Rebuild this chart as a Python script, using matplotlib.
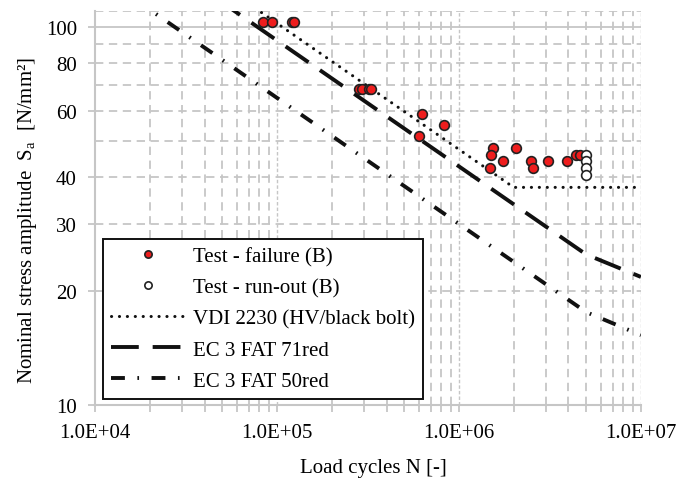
import numpy as np
import matplotlib
matplotlib.use('Agg')
from matplotlib import pyplot as plt
from matplotlib.ticker import FixedLocator, NullFormatter

plt.rcParams['font.family'] = ['Liberation Serif', 'DejaVu Serif']
plt.rcParams['mathtext.fontset'] = 'custom'
plt.rcParams['mathtext.rm'] = 'Liberation Serif'
plt.rcParams['lines.scale_dashes'] = False

# test results (load cycles, stress amplitude)
fail_n = [84100, 94200, 120500, 124500, 282000, 293000, 320000, 328500,
          624000, 830000, 603000, 1543000, 1499000, 2049000, 1739000, 1480000,
          2477000, 2560000, 3095000, 3936000, 4377000, 4624000]
fail_s = [103, 103, 103, 103, 68.5, 68.5, 68.5, 68.5,
          58.9, 55.1, 51.4, 47.8, 45.9, 47.8, 44.1, 42.3,
          44.1, 42.3, 44.1, 44.1, 45.9, 45.9]
runout_n = [5.0e6, 5.0e6, 5.0e6, 5.0e6]
runout_s = [45.9, 44.1, 42.3, 40.6]

# design curves (break points)
vdi_n = [1e4, 2e6, 1e7]
vdi_s = [220, 37.6, 37.6]
fat71_n = [1e4, 5e6, 1e7]
fat71_s = [198, 25.0, 21.8]
fat50_n = [1e4, 5e6, 1e7]
fat50_s = [139.7, 17.6, 15.3]

xticks = [1e4, 1e5, 1e6, 1e7]
xlabels = ["1.0E+04", "1.0E+05", "1.0E+06", "1.0E+07"]
yticks = [10, 20, 30, 40, 60, 80, 100]

fs = 15
grid_c = '#c6c6c6'

fig = plt.figure(figsize=(6.91, 4.81), dpi=100)
ax = fig.add_axes([0.1375, 0.156, 0.790, 0.819])
ax.set_xscale('log')
ax.set_yscale('log')
ax.set_xlim(1e4, 1e7)
ax.set_ylim(10, 110)

# grid
xminor = [m * d for d in [1e4, 1e5, 1e6] for m in range(2, 10)]
for x in xminor:
    ax.axvline(x, color=grid_c, lw=1.3, ls=(0, (6, 4)), zorder=0)
for x in xticks[1:]:
    ax.axvline(x, color=grid_c, lw=1.0, ls=(0, (2.5, 1.5)), zorder=0)
for y in [20, 30, 40, 50, 60, 70, 80, 90, 110]:
    ax.axhline(y, color=grid_c, lw=1.3, ls=(0, (6, 4)), zorder=0)
ax.axhline(100, color=grid_c, lw=1.3, zorder=0)

l1, = ax.plot(fail_n, fail_s, 'o', ms=7, mfc='#ee1d1d', mec='#222222', mew=1.2,
              ls='none', zorder=5)
l2, = ax.plot(runout_n, runout_s, 'o', ms=7, mfc='white', mec='#222222', mew=1.2,
              ls='none', zorder=5)
l3, = ax.plot(vdi_n, vdi_s, color='#111111', lw=2.2, ls=(0, (0.1, 5.6)),
              dash_capstyle='round', zorder=3)
l4, = ax.plot(fat71_n, fat71_s, color='#111111', lw=2.8, ls=(0, (20, 10)),
              zorder=3)
l5, = ax.plot(fat50_n, fat50_s, color='#111111', lw=2.8, ls=(0, (10, 9, 1.2, 9)),
              zorder=3)

ax.xaxis.set_major_locator(FixedLocator(xticks))
ax.set_xticklabels(xlabels)
ax.xaxis.set_minor_locator(FixedLocator(xminor))
ax.xaxis.set_minor_formatter(NullFormatter())
ax.yaxis.set_major_locator(FixedLocator(yticks))
ax.set_yticklabels([str(v) for v in yticks])
ax.yaxis.set_minor_locator(FixedLocator([]))
ax.tick_params(axis='both', which='both', direction='out', color=grid_c,
               width=1.3, labelsize=fs)
ax.tick_params(axis='x', which='both', length=5, pad=8)
ax.tick_params(axis='y', which='major', length=5, pad=8)

for s in ['top', 'right']:
    ax.spines[s].set_visible(False)
for s in ['left', 'bottom']:
    ax.spines[s].set_color(grid_c)
    ax.spines[s].set_linewidth(1.5)

ax.set_xlabel("Load cycles N [-]", fontsize=fs)
ax.xaxis.set_label_coords(0.51, -0.135)
ax.set_ylabel("Nominal stress amplitude  S$_\\mathregular{a}$  [N/mm²]", fontsize=fs)
ax.yaxis.set_label_coords(-0.103, 0.47)

leg = ax.legend([l1, l2, l3, l4, l5],
                ["Test - failure (B)", "Test - run-out (B)", "VDI 2230 (HV/black bolt)",
                 "EC 3 FAT 71red", "EC 3 FAT 50red"],
                loc='lower left', bbox_to_anchor=(0.0147, 0.0152), borderaxespad=0,
                fontsize=fs, frameon=True, fancybox=False, edgecolor='#111111',
                handlelength=3.5, handletextpad=0.4, labelspacing=0.55,
                borderpad=0.4, markerscale=0.75)
leg.get_frame().set_linewidth(1.4)
leg.get_frame().set_alpha(1)
leg.set_zorder(10)

fig.savefig("out.png", dpi=100)
